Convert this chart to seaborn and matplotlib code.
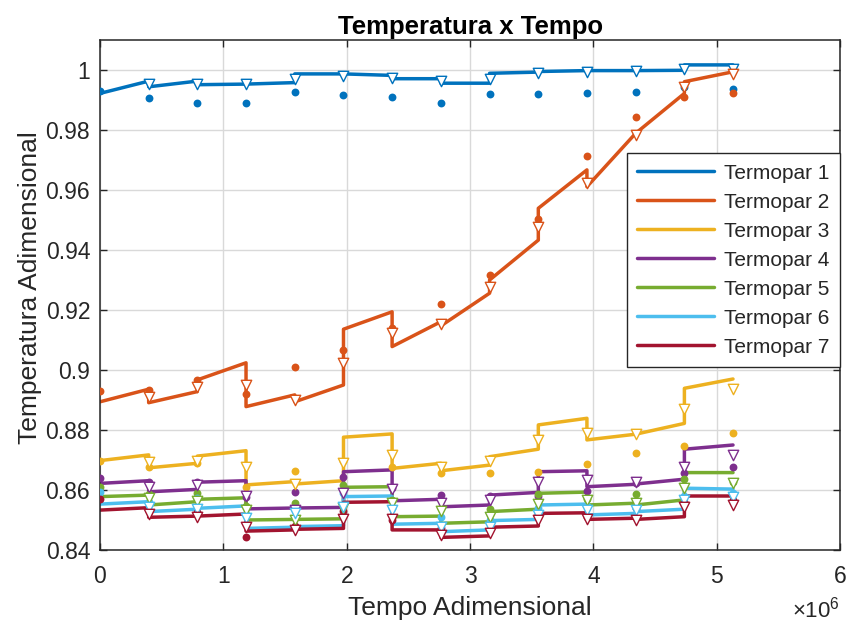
import numpy as np
import matplotlib
matplotlib.use('Agg')
import matplotlib.pyplot as plt
import seaborn as sns

# sample times (x 1e6)
t_marks = np.array([0, 0.395, 0.789, 1.184, 1.579, 1.974, 2.368, 2.763,
                    3.158, 3.553, 3.947, 4.342, 4.737, 5.131]) * 1e6

names = ['Termopar 1', 'Termopar 2', 'Termopar 3', 'Termopar 4',
         'Termopar 5', 'Termopar 6', 'Termopar 7']
colors = ['#0072BD', '#D95319', '#EDB120', '#7E2F8E', '#77AC30', '#4DBEEE', '#A2142F']

# model: value at start and end of each interval between sample times
seg_start_1 = [0.9922, 0.9944, 0.9951, 0.9953, 0.9987, 0.9987, 0.9971, 0.9956, 0.9989, 0.9995, 0.9998, 0.9998, 1.0017]
seg_end_1 = [0.9963, 0.9963, 0.9953, 0.9958, 0.9987, 0.9982, 0.9971, 0.9956, 0.9993, 0.9998, 0.9998, 0.9999, 1.0017]
seg_start_2 = [0.8894, 0.8891, 0.8967, 0.8878, 0.8894, 0.9136, 0.9078, 0.9147, 0.9300, 0.9539, 0.9611, 0.9789, 0.9961]
seg_end_2 = [0.8936, 0.8928, 0.9024, 0.8917, 0.8950, 0.9194, 0.9161, 0.9256, 0.9433, 0.9667, 0.9789, 0.9922, 0.9994]
seg_start_3 = [0.8698, 0.8674, 0.8713, 0.8617, 0.8620, 0.8776, 0.8672, 0.8664, 0.8711, 0.8817, 0.8767, 0.8786, 0.8939]
seg_end_3 = [0.8717, 0.8689, 0.8731, 0.8628, 0.8631, 0.8787, 0.8689, 0.8683, 0.8736, 0.8839, 0.8786, 0.8822, 0.8970]
seg_start_4 = [0.8622, 0.8594, 0.8626, 0.8537, 0.8540, 0.8661, 0.8564, 0.8544, 0.8583, 0.8661, 0.8611, 0.8620, 0.8736]
seg_end_4 = [0.8631, 0.8602, 0.8631, 0.8540, 0.8542, 0.8667, 0.8569, 0.8550, 0.8592, 0.8664, 0.8619, 0.8636, 0.8750]
seg_start_5 = [0.8578, 0.8550, 0.8569, 0.8500, 0.8502, 0.8609, 0.8511, 0.8489, 0.8528, 0.8589, 0.8550, 0.8550, 0.8658]
seg_end_5 = [0.8583, 0.8561, 0.8574, 0.8502, 0.8504, 0.8611, 0.8513, 0.8494, 0.8536, 0.8593, 0.8556, 0.8567, 0.8658]
seg_start_6 = [0.8553, 0.8528, 0.8539, 0.8472, 0.8478, 0.8578, 0.8486, 0.8461, 0.8498, 0.8550, 0.8517, 0.8528, 0.8606]
seg_end_6 = [0.8561, 0.8536, 0.8547, 0.8476, 0.8481, 0.8580, 0.8489, 0.8467, 0.8502, 0.8553, 0.8522, 0.8536, 0.8603]
seg_start_7 = [0.8533, 0.8509, 0.8513, 0.8463, 0.8469, 0.8559, 0.8467, 0.8442, 0.8476, 0.8522, 0.8502, 0.8502, 0.8580]
seg_end_7 = [0.8541, 0.8513, 0.8520, 0.8467, 0.8472, 0.8561, 0.8467, 0.8447, 0.8480, 0.8524, 0.8506, 0.8511, 0.8580]

# model at sample times 1..13 (triangles)
tri_1 = [0.9952, 0.9952, 0.9952, 0.9969, 0.9980, 0.9974, 0.9962, 0.9969, 0.9989, 0.9992, 0.9996, 1.0003, 1.0002]
tri_2 = [0.8911, 0.8944, 0.8950, 0.8900, 0.9022, 0.9122, 0.9153, 0.9276, 0.9478, 0.9624, 0.9783, 0.9944, 0.9986]
tri_3 = [0.8694, 0.8698, 0.8678, 0.8620, 0.8689, 0.8717, 0.8676, 0.8698, 0.8767, 0.8791, 0.8786, 0.8869, 0.8936]
tri_4 = [0.8611, 0.8615, 0.8581, 0.8533, 0.8589, 0.8602, 0.8556, 0.8567, 0.8625, 0.8633, 0.8628, 0.8678, 0.8717]
tri_5 = [0.8572, 0.8563, 0.8533, 0.8500, 0.8539, 0.8556, 0.8530, 0.8509, 0.8553, 0.8567, 0.8556, 0.8606, 0.8624]
tri_6 = [0.8542, 0.8536, 0.8506, 0.8524, 0.8544, 0.8533, 0.8475, 0.8478, 0.8517, 0.8533, 0.8533, 0.8567, 0.8578]
tri_7 = [0.8520, 0.8509, 0.8478, 0.8467, 0.8502, 0.8502, 0.8450, 0.8456, 0.8500, 0.8502, 0.8500, 0.8542, 0.8550]

# measured values (dots)
exp_1 = [0.9931, 0.9908, 0.9891, 0.9889, 0.9926, 0.9916, 0.9910, 0.9889, 0.9919, 0.9919, 0.9922, 0.9926, 0.9944, 0.9937]
exp_2 = [0.8931, 0.8933, 0.8967, 0.8920, 0.9009, 0.9067, 0.9141, 0.9219, 0.9317, 0.9503, 0.9713, 0.9842, 0.9911, 0.9924]
exp_3 = [0.8698, 0.8677, 0.8689, 0.8609, 0.8664, 0.8698, 0.8676, 0.8656, 0.8656, 0.8661, 0.8686, 0.8722, 0.8747, 0.8791]
exp_4 = [0.8639, 0.8625, 0.8628, 0.8575, 0.8592, 0.8644, 0.8605, 0.8583, 0.8580, 0.8581, 0.8598, 0.8622, 0.8656, 0.8678]
exp_5 = [0.8611, 0.8585, 0.8589, 0.8545, 0.8556, 0.8617, 0.8565, 0.8539, 0.8537, 0.8585, 0.8570, 0.8587, 0.8636, 0.8628]
exp_6 = [0.8592, 0.8560, 0.8572, 0.8520, 0.8533, 0.8589, 0.8540, 0.8510, 0.8500, 0.8540, 0.8545, 0.8540, 0.8580, 0.8589]
exp_7 = [0.8569, 0.8530, 0.8525, 0.8444, 0.8480, 0.8530, 0.8500, 0.8474, 0.8470, 0.8520, 0.8510, 0.8539, 0.8560, 0.8565]

seg_start = [seg_start_1, seg_start_2, seg_start_3, seg_start_4, seg_start_5, seg_start_6, seg_start_7]
seg_end = [seg_end_1, seg_end_2, seg_end_3, seg_end_4, seg_end_5, seg_end_6, seg_end_7]
tri = [tri_1, tri_2, tri_3, tri_4, tri_5, tri_6, tri_7]
exp = [exp_1, exp_2, exp_3, exp_4, exp_5, exp_6, exp_7]

sns.set_theme(style='whitegrid')
plt.rcParams['font.family'] = ['Liberation Sans', 'DejaVu Sans']

fig, ax = plt.subplots(figsize=(8.47, 6.25), dpi=100)
fig.subplots_adjust(left=0.118, right=0.992, bottom=0.12, top=0.936)

for i in range(7):
    # each interval goes from (t_k, start) to (t_k+1, end), jump at the sample time
    xs = np.column_stack([t_marks[:-1], t_marks[1:]]).ravel()
    ys = np.column_stack([seg_start[i], seg_end[i]]).ravel()
    sns.lineplot(x=xs, y=ys, color=colors[i], lw=2.5, estimator=None, sort=False,
                 label=names[i], ax=ax, zorder=2, solid_joinstyle='round')

for i in range(7):
    sns.scatterplot(x=t_marks, y=exp[i], color=colors[i], s=32, marker='o',
                    linewidth=0, ax=ax, zorder=3, legend=False)

for i in range(7):
    sns.scatterplot(x=t_marks[1:], y=tri[i], color=colors[i], facecolor='white',
                    edgecolor=colors[i], s=56, marker='v', linewidth=1.0,
                    ax=ax, zorder=4, legend=False)

ax.set_xlim(0, 6e6)
ax.set_ylim(0.84, 1.01)
ax.set_xticks(np.arange(0, 7) * 1e6)
ax.set_xticklabels([str(k) for k in range(7)])
yt = [0.84, 0.86, 0.88, 0.90, 0.92, 0.94, 0.96, 0.98, 1.00]
ax.set_yticks(yt)
ax.set_yticklabels(['0.84', '0.86', '0.88', '0.9', '0.92', '0.94', '0.96', '0.98', '1'])

ax.grid(True, color='#d9d9d9', lw=1.0)
for sp in ax.spines.values():
    sp.set_color('#262626')
    sp.set_linewidth(1.1)
ax.tick_params(direction='in', length=5, width=1, color='#262626', labelcolor='#262626',
               labelsize=16.5, top=True, right=True, bottom=True, left=True)
ax.tick_params(axis='x', pad=11)
ax.tick_params(axis='y', pad=7)

ax.text(1.0, -0.092, r'$\mathregular{\times10^{6}}$', transform=ax.transAxes,
        ha='right', va='top', fontsize=16, color='#262626')

ax.set_title('Temperatura x Tempo', fontsize=18.5, fontweight='bold', color='black', pad=4)
ax.set_xlabel('Tempo Adimensional', fontsize=19, color='#262626')
ax.set_ylabel('Temperatura Adimensional', fontsize=19, color='#262626')
ax.xaxis.set_label_coords(0.5, -0.09)
ax.yaxis.set_label_coords(-0.078, 0.515)

handles, labels = ax.get_legend_handles_labels()
leg = ax.legend(handles[:7], labels[:7], loc='upper right', bbox_to_anchor=(1.0, 0.778),
                fontsize=15, handlelength=3.7, frameon=True, fancybox=False,
                framealpha=1, edgecolor='#262626', borderpad=0.5, labelspacing=0.48,
                handletextpad=0.5, borderaxespad=0)
leg.get_frame().set_linewidth(1.0)

fig.savefig('out.png', dpi=100)
